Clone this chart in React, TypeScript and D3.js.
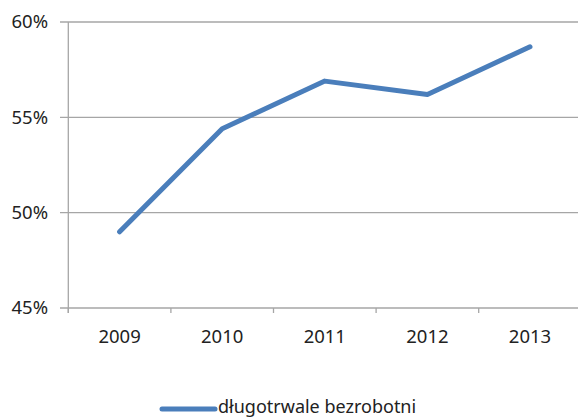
import React from 'react';
import * as d3 from 'd3';

const years = ['2009', '2010', '2011', '2012', '2013'];
const values = [49.0, 54.4, 56.9, 56.2, 58.7];
const yTicks = [45, 50, 55, 60];
const seriesName = 'długotrwale bezrobotni';

export default function App() {
  const W = 578;
  const H = 418;
  const left = 68.3;
  const right = 581.3;
  const top = 22;
  const bottom = 308;

  const x = d3.scaleBand<string>().domain(years).range([left, right]);
  const y = d3.scaleLinear().domain([45, 60]).range([bottom, top]);

  const line = d3
    .line<number>()
    .x((_, i) => (x(years[i]) || 0) + x.bandwidth() / 2)
    .y(d => y(d));

  const font = '"Noto Sans", sans-serif';
  const grid = '#a6a6a6';

  return (
    <svg
      width={W}
      height={H}
      style={{ position: 'absolute', left: 0, top: 0, background: '#fff' }}
    >
      {/* gridlines + y labels */}
      {yTicks.map(t => (
        <g key={t}>
          <line x1={60} x2={W} y1={y(t)} y2={y(t)} stroke={grid} strokeWidth={1.3} />
          <text
            x={48}
            y={y(t)}
            dy="0.35em"
            textAnchor="end"
            fontFamily={font}
            fontSize={18.5}
            fill="#222"
          >
            {t}%
          </text>
        </g>
      ))}
      {/* y axis */}
      <line x1={left} x2={left} y1={top} y2={bottom + 5} stroke={grid} strokeWidth={1.3} />
      {/* x ticks */}
      {years.map(yr => (
        <g key={yr}>
          <line
            x1={x(yr)}
            x2={x(yr)}
            y1={bottom}
            y2={bottom + 5}
            stroke={grid}
            strokeWidth={1.3}
          />
          <text
            x={(x(yr) || 0) + x.bandwidth() / 2}
            y={343}
            textAnchor="middle"
            fontFamily={font}
            fontSize={18.5}
            fill="#222"
          >
            {yr}
          </text>
        </g>
      ))}
      {/* series */}
      <path
        d={line(values) || ''}
        fill="none"
        stroke="#4a7ebb"
        strokeWidth={5}
        strokeLinecap="round"
        strokeLinejoin="round"
      />
      {/* legend */}
      <line x1={162} x2={215} y1={409} y2={409} stroke="#4a7ebb" strokeWidth={5} strokeLinecap="round" />
      <text x={218} y={413} fontFamily={font} fontSize={18} fill="#222">
        {seriesName}
      </text>
    </svg>
  );
}
